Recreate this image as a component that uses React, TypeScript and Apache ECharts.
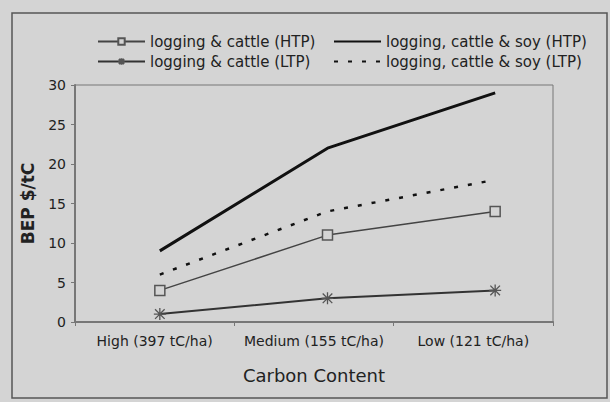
import React, { useEffect, useRef } from "react";
import * as echarts from "echarts";

const categories = ["High (397 tC/ha)", "Medium (155 tC/ha)", "Low (121 tC/ha)"];
const yTicks = [0, 5, 10, 15, 20, 25, 30];
const seriesNames = [
  "logging & cattle (HTP)",
  "logging & cattle (LTP)",
  "logging, cattle & soy (HTP)",
  "logging, cattle & soy (LTP)",
];
const lcHTP = [4, 11, 14];
const lcLTP = [1, 3, 4];
const lcsHTP = [9, 22, 29];
const lcsLTP = [6, 14, 18];

const FONT = "DejaVu Sans, Verdana, sans-serif";
const BG = "#d4d4d4";
const TXT = "#222";
const asterisk = "path://M1,1L9,9M9,1L1,9M5,0L5,10M0,5L10,5";

export default function App() {
  const ref = useRef<HTMLDivElement>(null);
  useEffect(() => {
    const chart = echarts.init(ref.current!, null, { renderer: "svg" });
    const legendCommon = {
      orient: "vertical",
      top: 34,
      padding: 0,
      itemWidth: 47,
      itemHeight: 8,
      itemGap: 5,
      textStyle: { fontSize: 15, color: TXT, fontFamily: FONT },
    };
    const option: any = {
      animation: false,
      backgroundColor: BG,
      textStyle: { fontFamily: FONT },
      graphic: [
        {
          type: "rect",
          shape: { x: 12, y: 13, width: 595, height: 385 },
          style: { fill: "none", stroke: "#555", lineWidth: 1.5 },
          silent: true,
        },
      ],
      legend: [
        {
          ...legendCommon,
          left: 97,
          data: [{ name: seriesNames[0] }, { name: seriesNames[1] }],
        },
        {
          ...legendCommon,
          left: 333,
          data: [
            { name: seriesNames[2], itemStyle: { opacity: 0 } },
            { name: seriesNames[3], itemStyle: { opacity: 0 } },
          ],
        },
      ],
      grid: [
        { left: 75, right: 57, top: 85, bottom: 80, show: true, borderColor: "#777", borderWidth: 1, backgroundColor: "transparent" },
        { left: 76, right: 31, top: 85, bottom: 80 },
      ],
      xAxis: [
        {
          type: "category",
          gridIndex: 0,
          data: categories,
          boundaryGap: true,
          axisLine: { lineStyle: { color: "#777", width: 2 } },
          axisTick: { show: true, length: 4, lineStyle: { color: "#777" } },
          axisLabel: { interval: 0, hideOverlap: false, fontSize: 14, color: TXT, margin: 12, fontFamily: FONT },
          name: "Carbon Content",
          nameLocation: "middle",
          nameGap: 44,
          nameTextStyle: { fontSize: 18, color: TXT, fontFamily: FONT },
        },
        { type: "category", gridIndex: 1, data: categories, show: false, boundaryGap: true },
      ],
      yAxis: [
        {
          type: "value",
          gridIndex: 0,
          min: 0,
          max: 30,
          interval: 5,
          axisLine: { show: true, lineStyle: { color: "#777", width: 2 } },
          axisTick: { show: true, length: 4, lineStyle: { color: "#777" } },
          splitLine: { show: false },
          axisLabel: {
            fontSize: 14,
            color: TXT,
            margin: 9,
            fontFamily: FONT,
            formatter: (v: number) => (yTicks.includes(v) ? String(v) : ""),
          },
          name: "BEP $/tC",
          nameLocation: "middle",
          nameGap: 39,
          nameTextStyle: { fontSize: 17, fontWeight: "bold", color: TXT, fontFamily: FONT },
        },
        { type: "value", gridIndex: 1, min: 0, max: 30, show: false },
      ],
      series: [
        {
          name: seriesNames[0],
          type: "line",
          xAxisIndex: 1,
          yAxisIndex: 1,
          data: lcHTP,
          symbol: "rect",
          symbolSize: 10,
          lineStyle: { color: "#444", width: 1.5 },
          itemStyle: { color: BG, borderColor: "#555", borderWidth: 1.5 },
          z: 3,
        },
        {
          name: seriesNames[1],
          type: "line",
          xAxisIndex: 1,
          yAxisIndex: 1,
          data: lcLTP,
          symbol: asterisk,
          symbolSize: 12,
          lineStyle: { color: "#333", width: 2 },
          itemStyle: { color: "#555", borderColor: "#555", borderWidth: 1.3 },
          z: 3,
        },
        {
          name: seriesNames[2],
          type: "line",
          xAxisIndex: 1,
          yAxisIndex: 1,
          data: lcsHTP,
          symbol: "none",
          lineStyle: { color: "#111", width: 3 },
          itemStyle: { color: "#111" },
        },
        {
          name: seriesNames[3],
          type: "line",
          xAxisIndex: 1,
          yAxisIndex: 1,
          data: lcsLTP,
          symbol: "none",
          lineStyle: { color: "#111", width: 2.5, type: [4, 10] },
          itemStyle: { color: "#111" },
        },
      ],
    };
    chart.setOption(option);
    return () => chart.dispose();
  }, []);
  return (
    <div
      ref={ref}
      style={{ position: "fixed", left: 0, top: 0, width: 610, height: 402 }}
    />
  );
}
